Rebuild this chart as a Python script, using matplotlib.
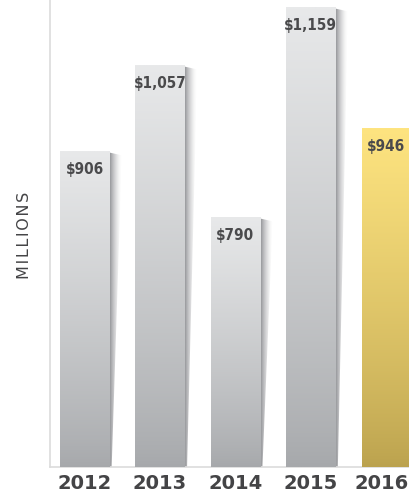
import numpy as np
import matplotlib.pyplot as plt
import matplotlib.transforms as mtransforms
from matplotlib.patches import Polygon
from matplotlib.colors import LinearSegmentedColormap, to_rgb

years = ['2012', '2013', '2014', '2015', '2016']
values = [906, 1057, 790, 1159, 946]
labels = ['$906', '$1,057', '$790', '$1,159', '$946']

grey_top, grey_bottom = '#e8e9ea', '#a6a8ab'
gold_top, gold_bottom = '#fee480', '#bba24e'

fig = plt.figure(figsize=(4.10, 4.94), dpi=100)
ax = fig.add_axes([50 / 410, 27 / 494, 360 / 410, 467 / 494])

x = np.arange(len(years))
bars = ax.bar(x, values, width=0.65, color='none', zorder=3)

ax.set_xlim(-0.458, 4.317)
ax.set_ylim(350, 1171)

grad = np.linspace(0, 1, 256).reshape(-1, 1) ** 0.8
for i, b in enumerate(bars):
    x0, w, h = b.get_x(), b.get_width(), b.get_height()
    top = b.get_y() + h
    bot = ax.get_ylim()[0]
    last = i == len(bars) - 1
    c1, c2 = (gold_top, gold_bottom) if last else (grey_top, grey_bottom)
    cmap = LinearSegmentedColormap.from_list('g', [c2, c1])
    im = ax.imshow(grad, cmap=cmap, aspect='auto', origin='lower',
                   extent=(x0, x0 + w, bot, top), zorder=3)
    im.set_clip_path(b)
    if not last:
        # tapered drop shadow on the right side
        xr = x0 + w
        poly = Polygon([(xr, top - 3), (xr + 0.17, top - 8), (xr + 0.035, bot), (xr, bot)],
                       closed=True, facecolor='none', edgecolor='none')
        ax.add_patch(poly)
        rgb = to_rgb('#8a8b8f')
        sh = np.zeros((1, 64, 4))
        sh[..., :3] = rgb
        sh[..., 3] = np.linspace(1.0, 0.0, 64) ** 1.6
        sim = ax.imshow(sh, aspect='auto', extent=(xr, xr + 0.17, bot, top), zorder=2)
        sim.set_clip_path(poly)
    ax.text(x[i], top - 33, labels[i], ha='center', va='center',
            fontsize=11, fontweight='bold', fontstretch='condensed', color='#4a4a4c',
            family='DejaVu Sans', zorder=4)

for s in ['top', 'right']:
    ax.spines[s].set_visible(False)
ax.spines['left'].set_color('#dcdcdc')
ax.spines['bottom'].set_color('#dcdcdc')
ax.spines['left'].set_linewidth(1.2)
ax.spines['bottom'].set_linewidth(1.2)
ax.set_yticks([])
ax.set_xticks(x)
ax.set_xticklabels(years, fontsize=14, fontweight='heavy', color='#444446')
ax.tick_params(axis='x', length=0, pad=5)
# keep the last year label inside the canvas
last_lbl = ax.get_xticklabels()[-1]
last_lbl.set_transform(last_lbl.get_transform() +
                       mtransforms.ScaledTranslation(-4 / 100, 0, fig.dpi_scale_trans))

fig.text(25 / 410, 1 - 235 / 494, '\u200a'.join('MILLIONS'),
         rotation=90, ha='center', va='center', fontsize=11.5, color='#444446')

fig.savefig('out.png', dpi=100)
